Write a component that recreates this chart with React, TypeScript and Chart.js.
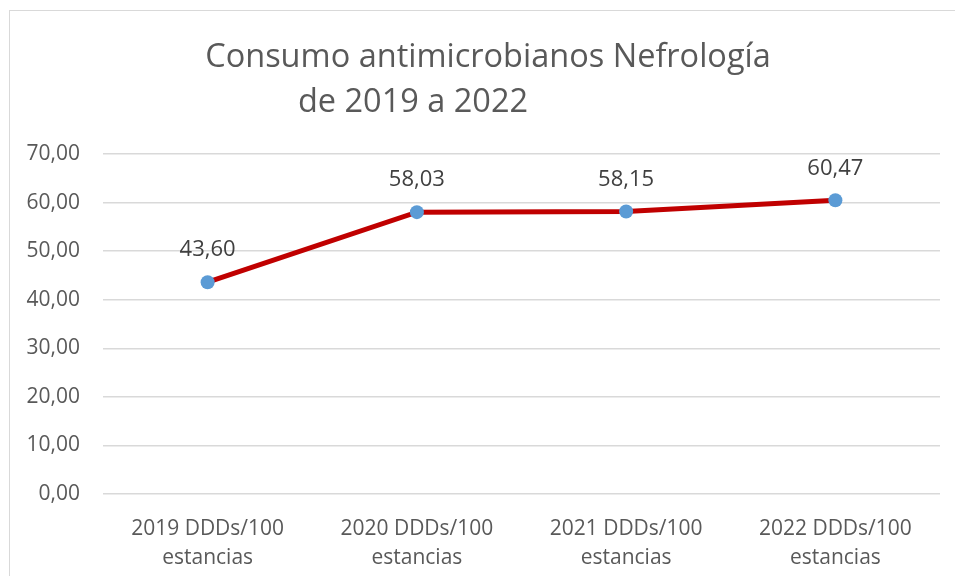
import React, { useEffect, useRef } from "react";
import { Chart, registerables } from "chart.js";

Chart.register(...registerables);

const categories: string[][] = [
  ["2019 DDDs/100", "estancias"],
  ["2020 DDDs/100", "estancias"],
  ["2021 DDDs/100", "estancias"],
  ["2022 DDDs/100", "estancias"],
];
const values: number[] = [43.6, 58.03, 58.15, 60.47];
const titleLines: string[] = ["Consumo antimicrobianos Nefrología", "de 2019 a 2022"];

const FONT = "'Open Sans', sans-serif";
const fmt = (v: number) => v.toFixed(2).replace(".", ",");

const framePlugin = {
  id: "frame",
  beforeDraw(chart: any) {
    const ctx = chart.ctx;
    ctx.save();
    ctx.fillStyle = "#ffffff";
    ctx.fillRect(0, 0, chart.width, chart.height);
    ctx.strokeStyle = "#d9d9d9";
    ctx.lineWidth = 1;
    ctx.strokeRect(9.5, 10.5, 2000, 2000);
    ctx.restore();
  },
  afterDraw(chart: any) {
    const ctx = chart.ctx;
    ctx.save();
    ctx.fillStyle = "#595959";
    ctx.font = `32.5px ${FONT}`;
    ctx.textAlign = "center";
    ctx.textBaseline = "alphabetic";
    ctx.fillText(titleLines[0], 488, 67);
    ctx.fillText(titleLines[1], 413, 112);
    // data labels
    const meta = chart.getDatasetMeta(0);
    ctx.fillStyle = "#404040";
    ctx.font = `22px ${FONT}`;
    ctx.textBaseline = "middle";
    meta.data.forEach((pt: any, i: number) => {
      ctx.fillText(fmt(values[i]), pt.x, pt.y - 32);
    });
    ctx.restore();
  },
};

export default function App() {
  const ref = useRef<HTMLCanvasElement>(null);
  useEffect(() => {
    if (!ref.current) return;
    const chart = new Chart(ref.current, {
      type: "line",
      data: {
        labels: categories,
        datasets: [
          {
            data: values,
            borderColor: "#c00000",
            borderWidth: 5,
            pointBackgroundColor: "#5b9bd5",
            pointBorderColor: "#5b9bd5",
            pointRadius: 7,
            pointBorderWidth: 0,
            tension: 0,
          },
        ],
      },
      options: {
        responsive: false,
        animation: false,
        layout: { padding: { top: 154, right: 15, left: 0, bottom: 0 } },
        plugins: { legend: { display: false }, title: { display: false }, tooltip: { enabled: false } },
        scales: {
          x: {
            offset: true,
            grid: { display: false, drawTicks: false },
            border: { display: false },
            ticks: { color: "#595959", font: { family: FONT, size: 21, lineHeight: 1.35 }, padding: 21, maxRotation: 0 },
            afterFit: (s: any) => { s.height = 82; },
          },
          y: {
            min: 0,
            max: 70,
            ticks: { stepSize: 10, color: "#595959", font: { family: FONT, size: 21 }, padding: 23, callback: (v: any) => fmt(Number(v)) },
            grid: { color: "#d9d9d9", lineWidth: 1.5, drawTicks: false },
            border: { display: false },
            afterFit: (s: any) => { s.width = 103; },
          },
        },
      },
      plugins: [framePlugin],
    });
    return () => chart.destroy();
  }, []);
  return (
    <div style={{ position: "fixed", left: 0, top: 0, width: 955, height: 576 }}>
      <canvas ref={ref} width={955} height={576} style={{ width: 955, height: 576 }} />
    </div>
  );
}
